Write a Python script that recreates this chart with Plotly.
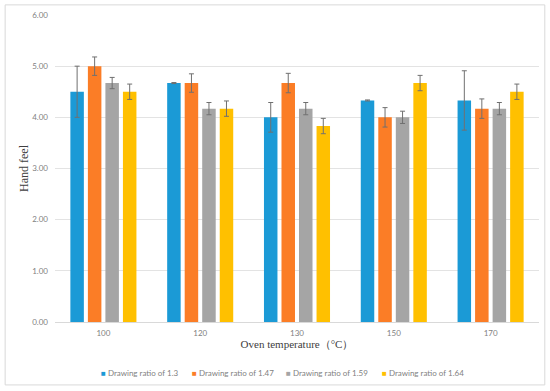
import plotly.graph_objects as go

categories = ["100", "120", "130", "150", "170"]
series_names = ["Drawing ratio of 1.3", "Drawing ratio of 1.47",
                "Drawing ratio of 1.59", "Drawing ratio of 1.64"]
ratio_1_3 = [4.50, 4.67, 4.00, 4.33, 4.33]
ratio_1_47 = [5.00, 4.67, 4.67, 4.00, 4.17]
ratio_1_59 = [4.67, 4.17, 4.17, 4.00, 4.17]
ratio_1_64 = [4.50, 4.17, 3.83, 4.67, 4.50]
err_1_3 = [0.50, 0.01, 0.29, 0.01, 0.58]
err_1_47 = [0.18, 0.18, 0.19, 0.19, 0.19]
err_1_59 = [0.11, 0.12, 0.12, 0.12, 0.12]
err_1_64 = [0.15, 0.15, 0.15, 0.15, 0.15]
y_ticks = [0, 1, 2, 3, 4, 5, 6]

values = [ratio_1_3, ratio_1_47, ratio_1_59, ratio_1_64]
errors = [err_1_3, err_1_47, err_1_59, err_1_64]
colors = ["#1B9AD6", "#FB7D26", "#A5A5A5", "#FFC000"]
legend_x = [0.0905, 0.2785, 0.4727, 0.6711]  # paper positions of legend entries

fig = go.Figure()
for name, vals, errs, col in zip(series_names, values, errors, colors):
    fig.add_trace(go.Bar(
        x=categories, y=vals, name=name, showlegend=False,
        marker=dict(color=col, line=dict(width=0)),
        error_y=dict(type="data", array=errs, visible=True,
                     color="#707070", thickness=1, width=2.5),
    ))

# legend drawn as text entries with small square keys, like the original
for name, col, lx in zip(series_names, colors, legend_x):
    fig.add_annotation(
        xref="paper", yref="paper", x=lx, y=-0.166, xanchor="left", yanchor="middle",
        showarrow=False,
        text=f'<span style="color:{col}">■</span> {name}',
        font=dict(family="Lato, sans-serif", size=8, color="#7F7F7F"),
    )

fig.update_layout(
    width=550, height=391,
    margin=dict(l=55, r=11, t=15, b=69),
    paper_bgcolor="white", plot_bgcolor="white",
    barmode="group", bargap=0.276, bargroupgap=0.23,
    font=dict(family="Lato, sans-serif", size=8, color="#7F7F7F"),
    showlegend=False,
    xaxis=dict(type="category", showgrid=False, showline=True, linecolor="#D9D9D9",
               linewidth=1, ticks="", ticklabelstandoff=3, automargin=False,
               tickfont=dict(size=8, color="#7F7F7F"),
               title=dict(text="Oven temperature（°C）", standoff=3,
                          font=dict(family="Liberation Serif, serif", size=11, color="#404040"))),
    yaxis=dict(range=[0, 6], tickvals=y_ticks, tickformat=".2f", showgrid=True,
               gridcolor="#E3E3E3", gridwidth=1, zeroline=False, showline=False,
               ticks="", automargin=False, ticklabelstandoff=6,
               tickfont=dict(size=8, color="#7F7F7F"),
               title=dict(text="Hand feel", standoff=0,
                          font=dict(family="Liberation Serif, serif", size=12, color="#404040"))),
)

fig.add_shape(type="rect", xref="paper", yref="paper",
              x0=-0.103, x1=1.012, y0=-0.205, y1=1.033,
              line=dict(color="#D9D9D9", width=1), fillcolor="rgba(0,0,0,0)", layer="below")

fig.write_html("out.html", config={"displayModeBar": False},
               post_script="document.body.style.margin='0';")
